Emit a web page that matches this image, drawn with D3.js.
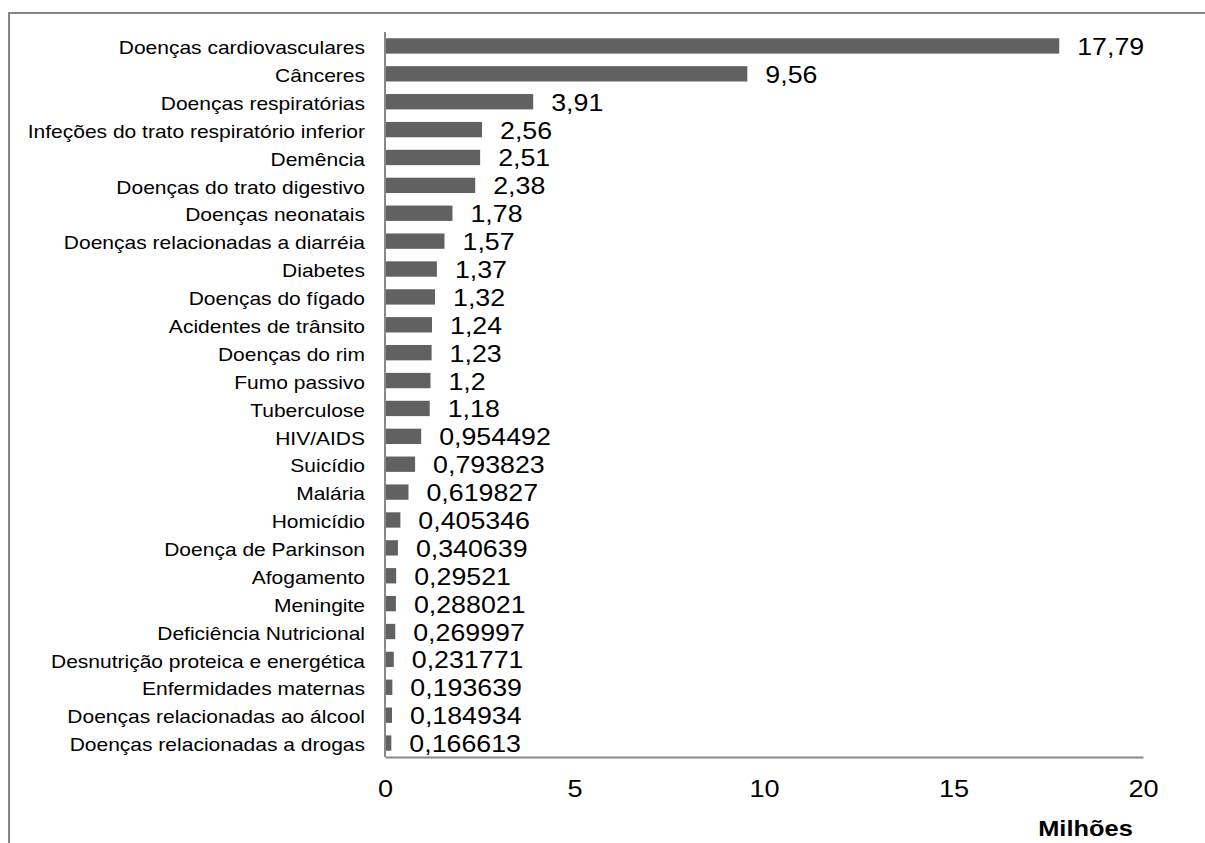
<!DOCTYPE html>
<html>
<head>
<meta charset="utf-8">
<script src="https://cdn.jsdelivr.net/npm/d3@7"></script>
<style>
  html, body { margin: 0; padding: 0; background: #fff; }
  svg { display: block; font-family: "Liberation Sans", Arial, sans-serif; }
</style>
</head>
<body>
<svg id="chart" width="1205" height="843"></svg>
<script>
// Causes of death worldwide (millions)
const categories = [
  "Doenças cardiovasculares", "Cânceres", "Doenças respiratórias",
  "Infeções do trato respiratório inferior", "Demência", "Doenças do trato digestivo",
  "Doenças neonatais", "Doenças relacionadas a diarréia", "Diabetes",
  "Doenças do fígado", "Acidentes de trânsito", "Doenças do rim", "Fumo passivo",
  "Tuberculose", "HIV/AIDS", "Suicídio", "Malária", "Homicídio",
  "Doença de Parkinson", "Afogamento", "Meningite", "Deficiência Nutricional",
  "Desnutrição proteica e energética", "Enfermidades maternas",
  "Doenças relacionadas ao álcool", "Doenças relacionadas a drogas"
];
const values = [
  17.79, 9.56, 3.91, 2.56, 2.51, 2.38, 1.78, 1.57, 1.37, 1.32, 1.24, 1.23, 1.2,
  1.18, 0.954492, 0.793823, 0.619827, 0.405346, 0.340639, 0.29521, 0.288021,
  0.269997, 0.231771, 0.193639, 0.184934, 0.166613
];
const xTicks = [0, 5, 10, 15, 20];
const axisTitle = "Milhões";

const svg = d3.select("#chart");
const stretch = 1.13; // horizontal text stretch
const plot = { left: 385, right: 1143, top: 32, bottom: 757 };
const axisColor = "#888888";
const barColor = "#616161";

// Outer frame
svg.append("rect")
  .attr("x", 9).attr("y", 13)
  .attr("width", 1300).attr("height", 900)
  .attr("fill", "none").attr("stroke", "#858585").attr("stroke-width", 2);

const x = d3.scaleLinear().domain([0, 20]).range([plot.left, plot.right]);
const y = d3.scaleBand().domain(categories).range([plot.top, plot.bottom]).paddingInner(0.45).paddingOuter(0.225);

// Bars
svg.append("g").selectAll("rect")
  .data(categories)
  .join("rect")
  .attr("x", x(0))
  .attr("y", d => y(d))
  .attr("width", (d, i) => x(values[i]) - x(0))
  .attr("height", y.bandwidth())
  .attr("fill", barColor);

// Value labels
svg.append("g").selectAll("text")
  .data(categories)
  .join("text")
  .attr("transform", (d, i) => `translate(${x(values[i]) + 18},${y(d) + y.bandwidth() / 2 + 9}) scale(${stretch},1)`)
  .attr("font-size", 23.7)
  .attr("fill", "#000")
  .text((d, i) => String(values[i]).replace(".", ","));

// Category labels
svg.append("g").selectAll("text")
  .data(categories)
  .join("text")
  .attr("transform", d => `translate(365,${y(d) + y.bandwidth() / 2 + 8.2}) scale(${stretch},1)`)
  .attr("text-anchor", "end")
  .attr("font-size", 18.6)
  .attr("fill", "#000")
  .text(d => d);

// Axes lines
svg.append("line")
  .attr("x1", plot.left).attr("x2", plot.left)
  .attr("y1", plot.top).attr("y2", plot.bottom)
  .attr("stroke", axisColor).attr("stroke-width", 2);

const xAxis = svg.append("g")
  .attr("transform", `translate(0,${plot.bottom})`)
  .call(d3.axisBottom(x).tickValues(xTicks).tickSize(0).tickPadding(23).tickFormat(d3.format("d")));
xAxis.select(".domain").attr("stroke", axisColor).attr("stroke-width", 2);
xAxis.selectAll(".tick text")
  .attr("font-size", 24)
  .attr("font-family", "Liberation Sans, Arial, sans-serif")
  .attr("fill", "#000")
  .attr("transform", `scale(${stretch},1)`);

// Axis title
svg.append("text")
  .attr("transform", `translate(1085.5,836) scale(${stretch},1)`)
  .attr("text-anchor", "middle")
  .attr("font-size", 22.5)
  .attr("font-weight", "bold")
  .attr("fill", "#000")
  .text(axisTitle);
</script>
</body>
</html>
